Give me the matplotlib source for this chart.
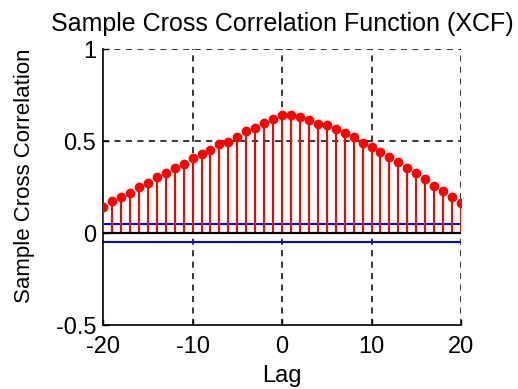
import matplotlib
matplotlib.use('Agg')
import matplotlib.pyplot as plt
import numpy as np

# sample cross correlation values
lags = list(range(-20, 21))
xcf = [0.143, 0.174, 0.197, 0.216, 0.252, 0.270, 0.306, 0.324, 0.355, 0.373,
       0.406, 0.428, 0.451, 0.482, 0.496, 0.523, 0.556, 0.572, 0.600, 0.617,
       0.641, 0.641, 0.629, 0.614, 0.592, 0.587, 0.564, 0.542, 0.523, 0.491,
       0.469, 0.442, 0.415, 0.388, 0.352, 0.324, 0.292, 0.257, 0.230, 0.194,
       0.165]
bound = 0.05
xticks = [-20, -10, 0, 10, 20]
yticks = [-0.5, 0, 0.5, 1]

plt.rcParams['font.family'] = ['Liberation Sans', 'DejaVu Sans']

fig = plt.figure(figsize=(5.18, 3.89), dpi=100)
ax = fig.add_axes([0.199, 0.1645, 0.691, 0.7095])

# grid (dashed black), drawn as lines so the top/right edges look like grid
for x in xticks[1:]:
    ax.axvline(x, color='black', ls=(0, (4, 3.5)), lw=1.1, zorder=1)
for y in yticks[2:]:
    ax.axhline(y, color='black', ls=(0, (4, 3.5)), lw=1.1, zorder=1)

# stems
markerline, stemlines, baseline = ax.stem(lags, xcf, linefmt='r-', markerfmt='ro', basefmt='k-')
plt.setp(stemlines, linewidth=1.5, zorder=3)
plt.setp(markerline, markersize=6, zorder=4)
plt.setp(baseline, linewidth=1.6, zorder=5, color='black')

# confidence bounds
ax.plot([lags[0], lags[-1]], [bound, bound], color='blue', lw=1.5, zorder=2)
ax.plot([lags[0], lags[-1]], [-bound, -bound], color='blue', lw=1.5, zorder=2)

ax.set_xlim(-20, 20)
ax.set_ylim(-0.5, 1)
ax.set_xticks(xticks)
ax.set_xticklabels([str(t) for t in xticks])
ax.set_yticks(yticks)
ax.set_yticklabels(['-0.5', '0', '0.5', '1'])
ax.tick_params(direction='in', length=4, width=1, labelsize=17)
ax.tick_params(axis='x', pad=8)
ax.tick_params(axis='y', pad=5)

ax.spines['top'].set_visible(False)
ax.spines['right'].set_visible(False)
ax.spines['left'].set_linewidth(1.2)
ax.spines['bottom'].set_linewidth(1.2)

ax.set_title('Sample Cross Correlation Function (XCF)', fontsize=18, pad=13)
ax.set_xlabel('Lag', fontsize=17)
ax.xaxis.set_label_coords(0.5, -0.145)
ax.set_ylabel('Sample Cross Correlation', fontsize=16)
ax.yaxis.set_label_coords(-0.19, 0.54)

fig.savefig('out.png', dpi=100)
